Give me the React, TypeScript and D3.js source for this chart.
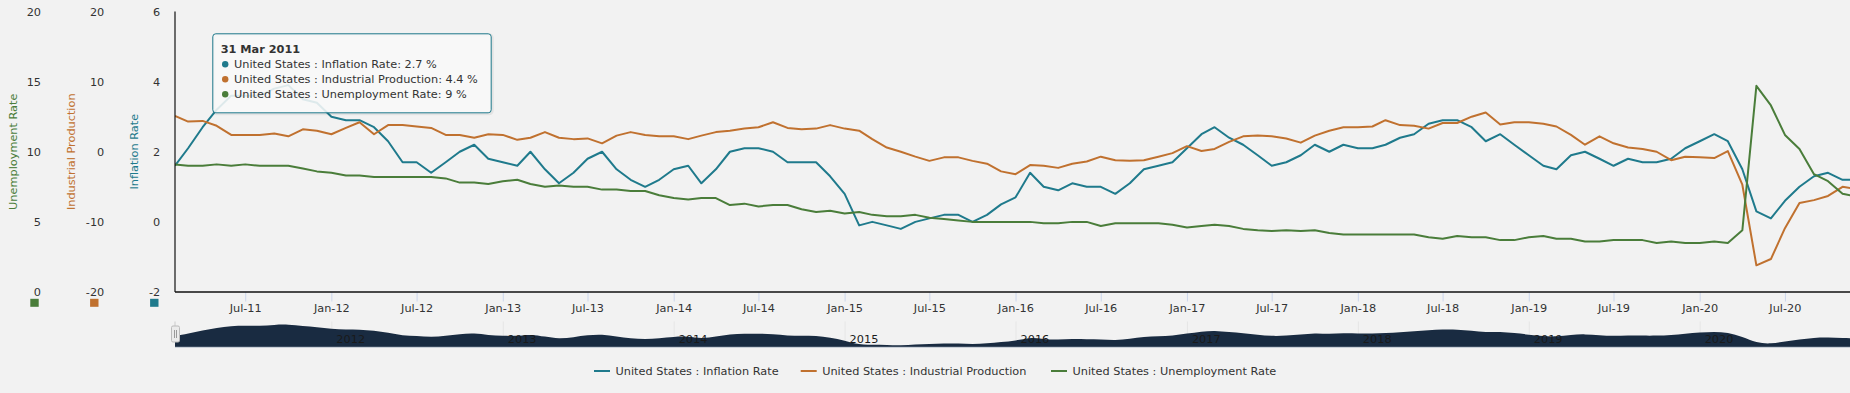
import React from "react";
import * as d3 from "d3";

// monthly readings, Jan 2011 .. Nov 2020 (values at month end)
const firstMonth = [2011, 0];

const inflationRate = [
  1.6, 2.1, 2.7, 3.2, 3.6, 3.6, 3.6, 3.8, 3.9, 3.5, 3.4, 3.0,
  2.9, 2.9, 2.7, 2.3, 1.7, 1.7, 1.4, 1.7, 2.0, 2.2, 1.8, 1.7,
  1.6, 2.0, 1.5, 1.1, 1.4, 1.8, 2.0, 1.5, 1.2, 1.0, 1.2, 1.5,
  1.6, 1.1, 1.5, 2.0, 2.1, 2.1, 2.0, 1.7, 1.7, 1.7, 1.3, 0.8,
  -0.1, 0.0, -0.1, -0.2, 0.0, 0.1, 0.2, 0.2, 0.0, 0.2, 0.5, 0.7,
  1.4, 1.0, 0.9, 1.1, 1.0, 1.0, 0.8, 1.1, 1.5, 1.6, 1.7, 2.1,
  2.5, 2.7, 2.4, 2.2, 1.9, 1.6, 1.7, 1.9, 2.2, 2.0, 2.2, 2.1,
  2.1, 2.2, 2.4, 2.5, 2.8, 2.9, 2.9, 2.7, 2.3, 2.5, 2.2, 1.9,
  1.6, 1.5, 1.9, 2.0, 1.8, 1.6, 1.8, 1.7, 1.7, 1.8, 2.1, 2.3,
  2.5, 2.3, 1.5, 0.3, 0.1, 0.6, 1.0, 1.3, 1.4, 1.2, 1.2,
];

const industrialProduction = [
  5.1, 4.3, 4.4, 3.7, 2.4, 2.4, 2.4, 2.6, 2.2, 3.2, 3.0, 2.5,
  3.4, 4.2, 2.5, 3.8, 3.8, 3.6, 3.4, 2.4, 2.4, 2.0, 2.5, 2.4,
  1.7, 2.0, 2.8, 2.0, 1.8, 1.9, 1.2, 2.3, 2.8, 2.4, 2.2, 2.2,
  1.8, 2.3, 2.8, 3.0, 3.3, 3.5, 4.2, 3.4, 3.2, 3.3, 3.8, 3.3,
  3.0, 1.8, 0.6, 0.0, -0.7, -1.3, -0.8, -0.8, -1.3, -1.7, -2.8, -3.2,
  -1.9, -2.0, -2.3, -1.7, -1.4, -0.7, -1.2, -1.3, -1.2, -0.7, -0.2, 0.8,
  0.1, 0.4, 1.4, 2.2, 2.3, 2.2, 1.9, 1.3, 2.3, 3.0, 3.5, 3.5,
  3.6, 4.5, 3.8, 3.7, 3.3, 4.1, 4.1, 5.0, 5.6, 3.9, 4.2, 4.2,
  4.0, 3.6, 2.4, 1.0, 2.2, 1.2, 0.6, 0.4, 0.0, -1.2, -0.7, -0.8,
  -0.9, 0.1, -4.7, -16.2, -15.3, -10.9, -7.3, -6.9, -6.3, -5.0, -5.3,
];

const unemploymentRate = [
  9.1, 9.0, 9.0, 9.1, 9.0, 9.1, 9.0, 9.0, 9.0, 8.8, 8.6, 8.5,
  8.3, 8.3, 8.2, 8.2, 8.2, 8.2, 8.2, 8.1, 7.8, 7.8, 7.7, 7.9,
  8.0, 7.7, 7.5, 7.6, 7.5, 7.5, 7.3, 7.3, 7.2, 7.2, 6.9, 6.7,
  6.6, 6.7, 6.7, 6.2, 6.3, 6.1, 6.2, 6.2, 5.9, 5.7, 5.8, 5.6,
  5.7, 5.5, 5.4, 5.4, 5.5, 5.3, 5.2, 5.1, 5.0, 5.0, 5.0, 5.0,
  5.0, 4.9, 4.9, 5.0, 5.0, 4.7, 4.9, 4.9, 4.9, 4.9, 4.8, 4.6,
  4.7, 4.8, 4.7, 4.5, 4.4, 4.35, 4.4, 4.35, 4.4, 4.2, 4.1, 4.1,
  4.1, 4.1, 4.1, 4.1, 3.9, 3.8, 4.0, 3.9, 3.9, 3.7, 3.7, 3.9,
  4.0, 3.8, 3.8, 3.6, 3.6, 3.7, 3.7, 3.7, 3.5, 3.6, 3.5, 3.5,
  3.6, 3.5, 4.4, 14.7, 13.3, 11.2, 10.2, 8.4, 7.9, 7.0, 6.8,
];

const seriesNames = [
  "United States : Inflation Rate",
  "United States : Industrial Production",
  "United States : Unemployment Rate",
];
const axisTitles = ["Inflation Rate", "Industrial Production", "Unemployment Rate"];
const inflationTicks = [-2, 0, 2, 4, 6];
const industrialTicks = [-20, -10, 0, 10, 20];
const unemploymentTicks = [0, 5, 10, 15, 20];
const hoverIndex = 2; // 31 Mar 2011

const W = 1850,
  H = 393;
const plotLeft = 175,
  plotTop = 11.5,
  plotBottom = 292;
const pxPerYear = 171.04;
const font = "'DejaVu Sans', Verdana, sans-serif";
const fs = 11.3;
const colors = ["#1f7a8c", "#c0712f", "#4a7d3a"];

const dates = inflationRate.map((_, i) =>
  d3.utcDay.offset(new Date(Date.UTC(firstMonth[0], firstMonth[1] + i + 1, 1)), -1)
);

const App = () => {
  const n = dates.length;
  const spanYears = (+dates[n - 1] - +dates[0]) / (365.25 * 864e5);
  const x = d3
    .scaleUtc()
    .domain([dates[0], dates[n - 1]])
    .range([plotLeft, plotLeft + spanYears * pxPerYear]);

  const yInf = d3.scaleLinear().domain([-2, 6]).range([plotBottom, plotTop]);
  const yInd = d3.scaleLinear().domain([-20, 20]).range([plotBottom, plotTop]);
  const yUnemp = d3.scaleLinear().domain([0, 20]).range([plotBottom, plotTop]);
  const yNav = d3
    .scaleLinear()
    .domain(d3.extent(inflationRate) as [number, number])
    .range([345.5, 324.3]);

  const series = [
    { values: inflationRate, y: yInf },
    { values: industrialProduction, y: yInd },
    { values: unemploymentRate, y: yUnemp },
  ];

  const line = (vals: number[], y: d3.ScaleLinear<number, number>) =>
    d3
      .line<number>()
      .x((_, i) => x(dates[i]))
      .y((d) => y(d))(vals);

  const navArea = d3
    .area<number>()
    .x((_, i) => x(dates[i]))
    .y0(347)
    .y1((d) => yNav(d))
    .curve(d3.curveBasis)(inflationRate);

  const xTicks = x.ticks(d3.utcMonth.every(6)!);
  const yearTicks = x.ticks(d3.utcYear.every(1)!);
  const fmt = d3.utcFormat("%b-%y");

  const axes = [
    { ticks: unemploymentTicks, y: yUnemp, right: 41, titleX: 17.3, color: colors[2], title: axisTitles[2], sq: 34.5 },
    { ticks: industrialTicks, y: yInd, right: 104.3, titleX: 75, color: colors[1], title: axisTitles[1], sq: 94.3 },
    { ticks: inflationTicks, y: yInf, right: 160.3, titleX: 138.3, color: colors[0], title: axisTitles[0], sq: 154.3 },
  ];

  const legendX = [594, 800.7, 1051];
  const tipVals = [
    `${seriesNames[0]}: ${inflationRate[hoverIndex]} %`,
    `${seriesNames[1]}: ${industrialProduction[hoverIndex]} %`,
    `${seriesNames[2]}: ${d3.format("~")(unemploymentRate[hoverIndex])} %`,
  ];

  return (
    <div style={{ position: "absolute", left: 0, top: 0, width: W, height: H, background: "#f2f2f2" }}>
      <style>{`body{margin:0;background:#f2f2f2}`}</style>
      <svg width={W} height={H} style={{ display: "block", fontFamily: font }}>
        <defs>
          <clipPath id="plotClip">
            <rect x={plotLeft} y={0} width={W - plotLeft} height={plotBottom + 2} />
          </clipPath>
        </defs>
        <rect width={W} height={H} fill="#f2f2f2" />

        {/* y axes */}
        {axes.map((a, ai) => (
          <g key={ai}>
            {a.ticks.map((t) => (
              <text key={t} x={a.right} y={a.y(t) + 4} textAnchor="end" fontSize={fs} fill="#333">
                {t}
              </text>
            ))}
            <text
              transform={`translate(${a.titleX},${(plotTop + plotBottom) / 2}) rotate(-90)`}
              textAnchor="middle"
              fontSize={fs}
              fill={a.color}
            >
              {a.title}
            </text>
            <rect x={a.sq - 4.2} y={298.8} width={8.4} height={8} fill={a.color} />
          </g>
        ))}

        {/* x ticks */}
        {xTicks.map((t) => (
          <g key={+t}>
            <line x1={x(t)} x2={x(t)} y1={plotBottom} y2={301.5} stroke="#ccd6eb" strokeWidth={1} />
            <text x={x(t)} y={311.5} textAnchor="middle" fontSize={fs} fill="#333">
              {fmt(t)}
            </text>
          </g>
        ))}

        {/* series */}
        <g clipPath="url(#plotClip)">
          {series.map((s, i) => (
            <path key={i} d={line(s.values, s.y) || ""} fill="none" stroke={colors[i]} strokeWidth={2} strokeLinejoin="round" />
          ))}
        </g>

        {/* axis lines */}
        <line x1={plotLeft} x2={plotLeft} y1={plotTop} y2={plotBottom} stroke="#111" strokeWidth={1.2} />
        <line x1={plotLeft} x2={W} y1={plotBottom} y2={plotBottom} stroke="#111" strokeWidth={1.5} />

        {/* navigator */}
        {yearTicks.map((t) => (
          <line key={"g" + +t} x1={x(t)} x2={x(t)} y1={321.5} y2={347} stroke="#e6e6e6" strokeWidth={1} />
        ))}
        <path d={navArea || ""} fill="#192b41" />
        <line x1={plotLeft} x2={W} y1={347.3} y2={347.3} stroke="#bfc6d0" strokeWidth={1} />
        {yearTicks.map((t) => (
          <text key={"y" + +t} x={x(t) + 4.5} y={342.7} fontSize={fs} fill="#1a1a1a">
            {d3.utcFormat("%Y")(t)}
          </text>
        ))}
        <line x1={plotLeft} x2={plotLeft} y1={321.5} y2={326} stroke="#ccc" />
        <rect x={171.5} y={326} width={8} height={16} rx={1.5} fill="#ebebeb" stroke="#bbb" />
        <line x1={174.5} x2={174.5} y1={330} y2={338} stroke="#999" />
        <line x1={176.5} x2={176.5} y1={330} y2={338} stroke="#999" />

        {/* legend */}
        {seriesNames.map((name, i) => (
          <g key={name}>
            <line x1={legendX[i]} x2={legendX[i] + 16} y1={371} y2={371} stroke={colors[i]} strokeWidth={2} />
            <text x={legendX[i] + 21.5} y={375.3} fontSize={fs} fill="#333">
              {name}
            </text>
          </g>
        ))}

        {/* tooltip */}
        <g>
          <rect x={213.8} y={34.8} width={278.4} height={79} rx={3} fill="none" stroke="rgba(0,0,0,0.06)" strokeWidth={3} />
          <rect x={212.8} y={33.8} width={278.4} height={79} rx={3} fill="rgba(248,248,248,0.88)" stroke={colors[0]} strokeWidth={1} />
          <text x={220.7} y={53} fontSize={fs} fontWeight="bold" fill="#333">
            {d3.utcFormat("%d %b %Y")(dates[hoverIndex])}
          </text>
          {tipVals.map((t, i) => (
            <g key={i}>
              <circle cx={225.2} cy={64.2 + i * 15} r={3.2} fill={colors[i]} />
              <text x={234} y={68.2 + i * 15} fontSize={fs} fill="#333">
                {t}
              </text>
            </g>
          ))}
        </g>
      </svg>
    </div>
  );
};

export default App;
